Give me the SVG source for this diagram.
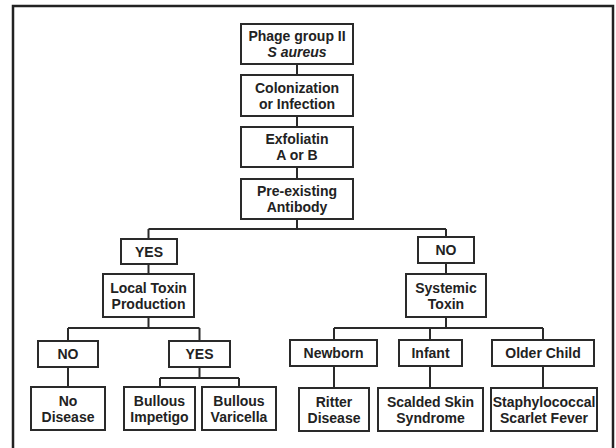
<svg xmlns="http://www.w3.org/2000/svg" width="616" height="448" viewBox="0 0 616 448">
<style>
.box{fill:#fff;stroke:#2a2a2a;stroke-width:2}
.t{font-family:"Liberation Sans",Arial,sans-serif;font-size:14px;font-weight:bold;fill:#222;text-anchor:middle}
.i{font-style:italic}
.c{fill:none;stroke:#2a2a2a;stroke-width:2}
</style>
<rect x="0" y="0" width="616" height="448" fill="#fff"/>
<rect x="13" y="6" width="600" height="460" fill="none" stroke="#222" stroke-width="2.5"/>
<g id="connectors">
<path class="c" d="M297 64V75M297 116V127M297 167V179M297 219V229M148.5 229H446M148.5 229V239M446 229V237M148.5 264V274M446 263V274"/>
<path class="c" d="M148.5 317V328M68 328H199.5M68 328V341M199.5 328V341M68 367V387M199.5 367V378M160 378H239M160 378V387M239 378V387"/>
<path class="c" d="M446 317V328M334 328H543M334 328V340M430 328V340M543 328V340M334 366V388M430 366V388M543 366V388"/>
</g>
<g id="phage"><rect class="box" x="241" y="24" width="112" height="40"/><text class="t" x="297" y="41">Phage group II</text><text class="t i" x="297" y="57">S aureus</text></g>
<g id="colonization"><rect class="box" x="241" y="75" width="112" height="41"/><text class="t" x="297" y="92.5">Colonization</text><text class="t" x="297" y="108.5">or Infection</text></g>
<g id="exfoliatin"><rect class="box" x="241" y="127" width="112" height="40"/><text class="t" x="297" y="144">Exfoliatin</text><text class="t" x="297" y="160">A or B</text></g>
<g id="antibody"><rect class="box" x="241" y="179" width="112" height="40"/><text class="t" x="297" y="196">Pre-existing</text><text class="t" x="297" y="212">Antibody</text></g>
<g id="yes1"><rect class="box" x="121" y="239" width="56" height="25"/><text class="t" x="149" y="256.5">YES</text></g>
<g id="no1"><rect class="box" x="418" y="237" width="56" height="26"/><text class="t" x="446" y="255">NO</text></g>
<g id="local"><rect class="box" x="103" y="274" width="91" height="43"/><text class="t" x="148.5" y="292.5">Local Toxin</text><text class="t" x="148.5" y="308.5">Production</text></g>
<g id="systemic"><rect class="box" x="406" y="274" width="80" height="43"/><text class="t" x="446" y="292.5">Systemic</text><text class="t" x="446" y="308.5">Toxin</text></g>
<g id="no2"><rect class="box" x="38" y="341" width="60" height="26"/><text class="t" x="68" y="359">NO</text></g>
<g id="yes2"><rect class="box" x="169" y="341" width="61" height="26"/><text class="t" x="199.5" y="359">YES</text></g>
<g id="nodisease"><rect class="box" x="31" y="387" width="74" height="43"/><text class="t" x="68" y="405.5">No</text><text class="t" x="68" y="421.5">Disease</text></g>
<g id="impetigo"><rect class="box" x="124" y="387" width="71" height="43"/><text class="t" x="159.5" y="405.5">Bullous</text><text class="t" x="159.5" y="421.5">Impetigo</text></g>
<g id="varicella"><rect class="box" x="202" y="387" width="74" height="43"/><text class="t" x="239" y="405.5">Bullous</text><text class="t" x="239" y="421.5">Varicella</text></g>
<g id="newborn"><rect class="box" x="290" y="340" width="87" height="26"/><text class="t" x="333.5" y="358">Newborn</text></g>
<g id="infant"><rect class="box" x="399" y="340" width="63" height="26"/><text class="t" x="430.5" y="358">Infant</text></g>
<g id="older"><rect class="box" x="492" y="340" width="102" height="26"/><text class="t" x="543" y="358">Older Child</text></g>
<g id="ritter"><rect class="box" x="299" y="388" width="70" height="43"/><text class="t" x="334" y="406.5">Ritter</text><text class="t" x="334" y="422.5">Disease</text></g>
<g id="scalded"><rect class="box" x="378" y="388" width="105" height="43"/><text class="t" x="430.5" y="406.5">Scalded Skin</text><text class="t" x="430.5" y="422.5">Syndrome</text></g>
<g id="scarlet"><rect class="box" x="491" y="388" width="106" height="43"/><text class="t" x="544" y="406.5">Staphylococcal</text><text class="t" x="544" y="422.5">Scarlet Fever</text></g>
</svg>
